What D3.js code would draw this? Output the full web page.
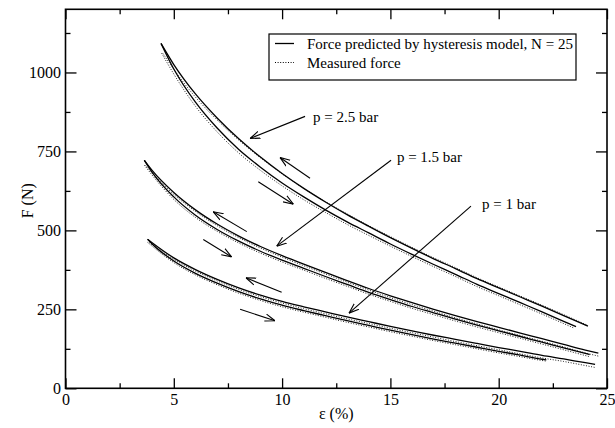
<!DOCTYPE html>
<html><head><meta charset="utf-8">
<script src="https://cdn.jsdelivr.net/npm/d3@7"></script>
<style>
body{margin:0;background:#fff}
svg{display:block}
text{font-family:"Liberation Serif","Times New Roman",Times,serif;fill:#000}
</style>
</head><body>
<svg id="chart" width="615" height="428"></svg>
<script>
// ---------- axis ticks ----------
const xMajorTicks = [0, 5, 10, 15, 20, 25];
const xMinorTicks = [2.5, 7.5, 12.5, 17.5, 22.5];
const yMajorTicks = [0, 250, 500, 750, 1000];
const yMinorTicks = [125, 375, 625, 875, 1125];

// ---------- p = 2.5 bar ----------
const epsTopPredUp = [4.41,5,6,7,8,9,10,11,12,13,14,15,16,17,18,19,20,21,22,23,24.12];
const fTopPredUp   = [1092,1025,932,856,790,732,680,633,590,550,513,477,443,410,379,347,318,289,260,230,197];
const epsTopPredLo = [4.41,5,6,7,8,9,10,11,12,13,14,15,16,17,18,19,20,21,22,23,23.57];
const fTopPredLo   = [1092,1011,906,824,756,700,650,606,565,527,492,457,424,392,361,329,300,271,242,212,195];
const epsTopMeasUp = [4.5,5,6,7,8,9,10,11,12,13,14,15,16,17,18,19,20,21,22,23,24.12];
const fTopMeasUp   = [1060,1010,922,850,786,730,679,633,591,552,515,480,446,413,382,350,321,292,263,233,199];
const epsTopMeasLo = [4.44,5,6,7,8,9,10,11,12,13,14,15,16,17,18,19,20,21,22,23,23.5];
const fTopMeasLo   = [1061,995,893,812,745,690,641,597,557,519,484,450,417,385,354,322,293,264,235,205,190];

// ---------- p = 1.5 bar ----------
const epsMidPredUp = [3.64,4,5,6,7,8,9,10,11,12,13,14,15,16,17,18,19,20,21,22,23,24,24.6];
const fMidPredUp   = [722,690,620,565,520,482,449,420,393,367,341,316,293,271,250,230,211,193,175,157,139,121,111];
const epsMidPredLo = [3.64,4,5,6,7,8,9,10,11,12,13,14,15,16,17,18,19,20,21,22,23,24.2];
const fMidPredLo   = [722,684,606,548,503,466,434,406,380,354,329,304,281,259,239,219,200,182,164,146,128,107];
const epsMidMeasUp = [3.7,4,5,6,7,8,9,10,11,12,13,14,15,16,17,18,19,20,21,22,23,24,24.6];
const fMidMeasUp   = [705,682,614,560,515,477,444,415,388,362,336,311,287,265,244,223,204,185,167,149,131,112,102];
const epsMidMeasLo = [3.64,4,5,6,7,8,9,10,11,12,13,14,15,16,17,18,19,20,21,22,23,24.2];
const fMidMeasLo   = [707,675,598,541,497,460,428,400,374,348,323,298,275,253,233,213,194,176,158,140,122,100];

// ---------- p = 1 bar ----------
const epsBotPredUp = [3.79,4,5,6,7,8,9,10,11,12,13,14,15,16,17,18,19,20,21,22,23,24,24.45];
const fBotPredUp   = [472,461,413,376,345,318,295,275,258,242,226,211,196,182,168,155,142,129,117,104,93,81,76];
const epsBotPredLo = [3.79,4,5,6,7,8,9,10,11,12,13,14,15,16,17,18,19,20,21,22,22.2];
const fBotPredLo   = [472,457,403,364,333,306,283,263,246,230,214,199,184,170,156,143,130,117,105,92,90];
const epsBotMeasUp = [3.85,4,5,6,7,8,9,10,11,12,13,14,15,16,17,18,19,20,21,22,23,24,24.45];
const fBotMeasUp   = [462,455,408,371,340,313,290,270,252,236,220,205,190,176,162,148,135,122,109,96,85,72,66];
const epsBotMeasLo = [3.79,4,5,6,7,8,9,10,11,12,13,14,15,16,17,18,19,20,21,22,22.2];
const fBotMeasLo   = [462,450,398,359,328,301,278,258,241,225,209,194,179,165,151,138,125,112,100,88,86];

// ---------- annotations (data coordinates) ----------
const pressureLabels = ["p = 2.5 bar", "p = 1.5 bar", "p = 1 bar"];
const pressureLabelAt = [[11.43, 842], [15.30, 716], [19.23, 567]];
const pressureArrowFrom = [[11.06, 861], [15.03, 722], [18.72, 577]];
const pressureArrowTo   = [[8.52, 791], [9.75, 450], [13.09, 238]];
const dirArrowFrom = [[11.29, 665], [8.90, 654], [8.37, 496], [6.36, 471], [9.98, 304], [8.06, 250]];
const dirArrowTo   = [[9.90, 731], [10.52, 583], [6.82, 559], [7.67, 416], [8.33, 350], [9.67, 214]];

const legendLabels = ["Force predicted by hysteresis model, N = 25", "Measured force"];

// ---------- layout ----------
const svg = d3.select("#chart");
const L = 65.5, T = 9.3, W = 541.5, H = 379;
const x = d3.scaleLinear().domain([0, 25]).range([L, L + W]);
const y = d3.scaleLinear().domain([0, 1200]).range([T + H, T]);

const line = d3.line().x(d => x(d[0])).y(d => y(d[1])).curve(d3.curveMonotoneX);
const zip = (a, b) => a.map((v, i) => [v, b[i]]);

const defs = svg.append("defs");
defs.append("marker").attr("id", "open").attr("viewBox", "0 -5 10 10")
  .attr("refX", 10).attr("refY", 0).attr("markerWidth", 10).attr("markerHeight", 10)
  .attr("markerUnits", "userSpaceOnUse").attr("orient", "auto")
  .append("path").attr("d", "M0,-3.6L10,0L0,3.6").attr("fill", "none")
  .attr("stroke", "#000").attr("stroke-width", 1.1);

// curves
const predicted = [
  [epsTopPredUp, fTopPredUp], [epsTopPredLo, fTopPredLo],
  [epsMidPredUp, fMidPredUp], [epsMidPredLo, fMidPredLo],
  [epsBotPredUp, fBotPredUp], [epsBotPredLo, fBotPredLo]
];
const measured = [
  [epsTopMeasUp, fTopMeasUp], [epsTopMeasLo, fTopMeasLo],
  [epsMidMeasUp, fMidMeasUp], [epsMidMeasLo, fMidMeasLo],
  [epsBotMeasUp, fBotMeasUp], [epsBotMeasLo, fBotMeasLo]
];
svg.append("g").selectAll("path").data(measured).join("path")
  .attr("d", d => line(zip(d[0], d[1])))
  .attr("fill", "none").attr("stroke", "#222").attr("stroke-width", 1)
  .attr("stroke-dasharray", "1,1.6");
svg.append("g").selectAll("path").data(predicted).join("path")
  .attr("d", d => line(zip(d[0], d[1])))
  .attr("fill", "none").attr("stroke", "#000").attr("stroke-width", 1.3);

// axes
function styleAxis(g) {
  g.select(".domain").remove();
  g.selectAll(".tick line").attr("stroke", "#000").attr("stroke-width", 1.3);
  g.selectAll(".tick text").style("font-size", "16px")
    .style("font-family", '"Liberation Serif","Times New Roman",serif');
}
svg.append("g").attr("transform", `translate(0,${T + H})`)
  .call(d3.axisBottom(x).tickValues(xMajorTicks).tickSize(-10).tickPadding(5).tickFormat(d3.format("d")))
  .call(styleAxis);
svg.append("g").attr("transform", `translate(0,${T + H})`)
  .call(d3.axisBottom(x).tickValues(xMinorTicks).tickSize(-5).tickFormat(""))
  .call(styleAxis);
svg.append("g").attr("transform", `translate(0,${T})`)
  .call(d3.axisTop(x).tickValues(xMajorTicks).tickSize(-10).tickFormat(""))
  .call(styleAxis);
svg.append("g").attr("transform", `translate(0,${T})`)
  .call(d3.axisTop(x).tickValues(xMinorTicks).tickSize(-5).tickFormat(""))
  .call(styleAxis);
svg.append("g").attr("transform", `translate(${L},0)`)
  .call(d3.axisLeft(y).tickValues(yMajorTicks).tickSize(-11).tickPadding(4.5).tickFormat(d3.format("d")))
  .call(styleAxis);
svg.append("g").attr("transform", `translate(${L},0)`)
  .call(d3.axisLeft(y).tickValues(yMinorTicks).tickSize(-5).tickFormat(""))
  .call(styleAxis);
svg.append("g").attr("transform", `translate(${L + W},0)`)
  .call(d3.axisRight(y).tickValues(yMajorTicks).tickSize(-11).tickFormat(""))
  .call(styleAxis);
svg.append("g").attr("transform", `translate(${L + W},0)`)
  .call(d3.axisRight(y).tickValues(yMinorTicks).tickSize(-5).tickFormat(""))
  .call(styleAxis);

svg.append("rect").attr("x", L).attr("y", T).attr("width", W).attr("height", H)
  .attr("fill", "none").attr("stroke", "#000").attr("stroke-width", 1.6);

// axis titles
svg.append("text").attr("x", L + W / 2).attr("y", 419).attr("text-anchor", "middle")
  .style("font-size", "16px").text("ε (%)");
svg.append("text").attr("transform", `translate(33,${T + H / 2 + 2}) rotate(-90)`)
  .attr("text-anchor", "middle").style("font-size", "16px").text("F (N)");

// pressure labels and arrows
svg.append("g").selectAll("text").data(pressureLabels).join("text")
  .attr("x", (d, i) => x(pressureLabelAt[i][0])).attr("y", (d, i) => y(pressureLabelAt[i][1]))
  .style("font-size", "15px").text(d => d);
svg.append("g").selectAll("line").data(pressureArrowFrom).join("line")
  .attr("x1", d => x(d[0])).attr("y1", d => y(d[1]))
  .attr("x2", (d, i) => x(pressureArrowTo[i][0])).attr("y2", (d, i) => y(pressureArrowTo[i][1]))
  .attr("stroke", "#000").attr("stroke-width", 1.1).attr("marker-end", "url(#open)");
svg.append("g").selectAll("line").data(dirArrowFrom).join("line")
  .attr("x1", d => x(d[0])).attr("y1", d => y(d[1]))
  .attr("x2", (d, i) => x(dirArrowTo[i][0])).attr("y2", (d, i) => y(dirArrowTo[i][1]))
  .attr("stroke", "#000").attr("stroke-width", 1.1).attr("marker-end", "url(#open)");

// legend
const lg = svg.append("g");
lg.append("rect").attr("x", 269).attr("y", 34).attr("width", 307).attr("height", 46)
  .attr("fill", "#fff").attr("stroke", "#000").attr("stroke-width", 1.2);
legendLabels.forEach((t, i) => {
  const yy = 43.5 + i * 19;
  lg.append("line").attr("x1", 275).attr("x2", 294).attr("y1", yy).attr("y2", yy)
    .attr("stroke", "#000").attr("stroke-width", i ? 1 : 1.3)
    .attr("stroke-dasharray", i ? "1,1.6" : null);
  lg.append("text").attr("x", 307).attr("y", yy + 5).style("font-size", "15px").text(t);
});
</script>
</body></html>
